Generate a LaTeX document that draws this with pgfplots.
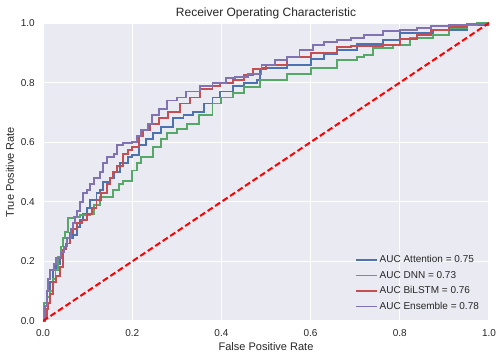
\documentclass[border=0pt]{standalone}
\usepackage{fontspec}
\setmainfont{Liberation Sans}
\usepackage{pgfplots}
\pgfplotsset{compat=1.18}
\usetikzlibrary{calc}

\definecolor{sbbg}{HTML}{EAEAF2}
\definecolor{sbblue}{HTML}{4C72B0}
\definecolor{sbgreen}{HTML}{55A868}
\definecolor{sbred}{HTML}{C44E52}
\definecolor{sbpurple}{HTML}{8172B2}
\definecolor{labgray}{HTML}{262626}

\pgfplotsset{
    legend image code/.code={\draw[#1] (0pt,0pt) -- (21pt,0pt);}
}

\begin{document}
\begin{tikzpicture}
\begin{axis}[
    scale only axis,
    width=446pt,
    height=298pt,
    xmin=0, xmax=1,
    ymin=0, ymax=1,
    axis background/.style={fill=sbbg},
    axis line style={draw=none},
    tick style={draw=none},
    grid=major,
    major grid style={white, line width=1.2pt},
    xtick={0,0.2,0.4,0.6,0.8,1},
    ytick={0,0.2,0.4,0.6,0.8,1},
    xticklabels={0.0,0.2,0.4,0.6,0.8,1.0},
    yticklabels={0.0,0.2,0.4,0.6,0.8,1.0},
    ticklabel style={font=\fontsize{10}{12}\selectfont, text=labgray, inner sep=0pt},
    xticklabel style={anchor=base, yshift=-15pt},
    yticklabel style={anchor=east, xshift=-8pt},
    xlabel={False Positive Rate},
    ylabel={True Positive Rate},
    label style={font=\fontsize{11}{13}\selectfont, text=labgray},
    xlabel style={at={(axis description cs:0.5,-0.0973)}, anchor=base},
    ylabel style={at={(axis description cs:-0.074,0.5)}, anchor=center, rotate=0},
    title={Receiver Operating Characteristic},
    every axis title shift=0pt,
    title style={font=\fontsize{12}{14}\selectfont, text=labgray,
        at={(axis description cs:0.5,1.0205)}, anchor=base},
    legend style={draw=none, fill=none, at={(0.989,0.02)}, anchor=south east,
        font=\fontsize{10}{12}\selectfont, text=labgray, row sep=2.8pt},
    legend cell align=left,
]

% Attention
\addplot[const plot, sbblue, line width=1.9pt] coordinates {
(0,0) (0.002,0.03) (0.004,0.05) (0.008,0.1) (0.015,0.13) (0.022,0.17)
(0.03,0.19) (0.038,0.21) (0.045,0.24) (0.052,0.26) (0.06,0.28) (0.068,0.29)
(0.076,0.315) (0.083,0.34) (0.09,0.36) (0.098,0.38) (0.105,0.405) (0.12,0.43)
(0.128,0.44) (0.135,0.465) (0.15,0.48) (0.16,0.5) (0.173,0.53) (0.19,0.55)
(0.2,0.557) (0.215,0.59) (0.23,0.61) (0.247,0.63) (0.265,0.65) (0.292,0.68)
(0.315,0.69) (0.337,0.70) (0.36,0.73) (0.38,0.75) (0.397,0.77) (0.426,0.79)
(0.45,0.80) (0.48,0.81) (0.487,0.84) (0.49,0.85) (0.547,0.86) (0.6,0.88)
(0.63,0.895) (0.66,0.91) (0.704,0.93) (0.762,0.943) (0.8,0.966) (0.874,0.976)
(0.95,0.993) (1,1)
};
\addlegendentry{AUC Attention = 0.75}

% DNN
\addplot[const plot, sbgreen, line width=1.9pt] coordinates {
(0,0) (0,0.04) (0.002,0.06) (0.008,0.08) (0.015,0.1) (0.022,0.14) (0.028,0.17)
(0.034,0.215) (0.04,0.25) (0.045,0.28) (0.05,0.3) (0.056,0.345) (0.07,0.35)
(0.083,0.355) (0.105,0.36) (0.115,0.39) (0.128,0.415) (0.157,0.44) (0.17,0.46)
(0.18,0.47) (0.2,0.505) (0.21,0.53) (0.22,0.55) (0.247,0.585) (0.265,0.61)
(0.278,0.63) (0.3,0.645) (0.323,0.66) (0.35,0.69) (0.38,0.73) (0.4,0.75)
(0.426,0.765) (0.45,0.785) (0.487,0.81) (0.547,0.83) (0.6,0.85) (0.66,0.876)
(0.704,0.886) (0.72,0.893) (0.74,0.916) (0.785,0.926) (0.823,0.95) (0.874,0.96)
(0.91,0.983) (0.95,0.993) (0.973,1) (1,1)
};
\addlegendentry{AUC DNN = 0.73}

% BiLSTM
\addplot[const plot, sbred, line width=1.9pt] coordinates {
(0,0) (0.004,0.013) (0.008,0.04) (0.011,0.06) (0.016,0.09) (0.022,0.13)
(0.03,0.15) (0.038,0.18) (0.045,0.24) (0.052,0.26) (0.06,0.295) (0.068,0.31)
(0.076,0.33) (0.087,0.34) (0.098,0.36) (0.11,0.38) (0.12,0.405) (0.13,0.43)
(0.143,0.46) (0.15,0.48) (0.157,0.50) (0.166,0.52) (0.18,0.56) (0.19,0.575)
(0.2,0.585) (0.215,0.62) (0.225,0.64) (0.24,0.66) (0.26,0.68) (0.28,0.70)
(0.307,0.73) (0.33,0.75) (0.352,0.78) (0.38,0.79) (0.397,0.80) (0.426,0.81)
(0.45,0.825) (0.47,0.845) (0.5,0.86) (0.547,0.886) (0.6,0.90) (0.66,0.92)
(0.69,0.923) (0.762,0.926) (0.8,0.945) (0.838,0.96) (0.87,0.975) (0.91,0.986)
(0.95,0.995) (1,1)
};
\addlegendentry{AUC BiLSTM = 0.76}

% Ensemble
\addplot[const plot, sbpurple, line width=1.9pt] coordinates {
(0,0) (0.004,0.05) (0.008,0.1) (0.012,0.14) (0.016,0.17) (0.024,0.19)
(0.03,0.21) (0.04,0.23) (0.048,0.25) (0.054,0.28) (0.062,0.31) (0.067,0.33)
(0.072,0.35) (0.076,0.37) (0.083,0.40) (0.09,0.43) (0.098,0.44) (0.105,0.46)
(0.115,0.48) (0.128,0.50) (0.135,0.53) (0.143,0.55) (0.16,0.56) (0.166,0.59)
(0.18,0.598) (0.2,0.60) (0.21,0.62) (0.22,0.64) (0.235,0.66) (0.245,0.69)
(0.26,0.71) (0.278,0.74) (0.3,0.75) (0.32,0.77) (0.352,0.79) (0.38,0.80)
(0.41,0.815) (0.43,0.82) (0.46,0.83) (0.49,0.86) (0.52,0.875) (0.547,0.886)
(0.575,0.91) (0.605,0.926) (0.63,0.935) (0.66,0.943) (0.69,0.95) (0.72,0.96)
(0.762,0.973) (0.8,0.978) (0.838,0.983) (0.87,0.99) (0.91,0.993) (0.95,0.997)
(1,1)
};
\addlegendentry{AUC Ensemble = 0.78}

% chance line
\addplot[red, line width=2pt, dash pattern=on 6pt off 3pt, forget plot] coordinates {(0,0) (1,1)};

\end{axis}
\pgfresetboundingbox
\path ($(current axis.south west)+(-43pt,-38pt)$) rectangle ($(current axis.north east)+(13pt,23pt)$);
\end{tikzpicture}
\end{document}
